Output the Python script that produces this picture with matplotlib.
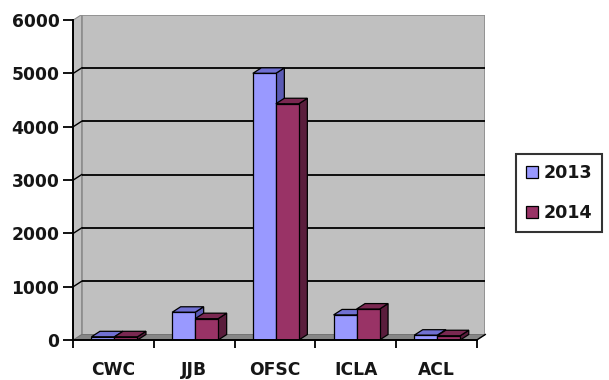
import matplotlib
matplotlib.use("Agg")
import matplotlib.pyplot as plt
from matplotlib.patches import Polygon

# ---- data ----
categories = ["CWC", "JJB", "OFSC", "ICLA", "ACL"]
series_names = ["2013", "2014"]
values_2013 = [60, 520, 5000, 470, 90]
values_2014 = [60, 400, 4430, 580, 80]
y_ticks = [0, 1000, 2000, 3000, 4000, 5000, 6000]

# ---- style ----
front_cols = ["#9999FF", "#993366"]
top_cols = ["#7070D2", "#7A2851"]
side_cols = ["#5A5AB4", "#5A1D3C"]
wall_col = "#C0C0C0"
floor_col = "#868686"
txt_col = "#161616"

W, H = 609, 380
fig = plt.figure(figsize=(W / 100, H / 100), dpi=100)
fig.patch.set_facecolor("white")

# pixel geometry
x0_px, y0_px = 73.3, 340.0
px_cat = 80.7
px_1000 = 53.33
DX_px, DY_px = 8.5, 5.5
ymax = 6000
dxu = DX_px / px_cat
dyu = DY_px / px_1000 * 1000

ax_w = 5 * px_cat + DX_px
ax_h = ymax / 1000 * px_1000 + DY_px
ax = fig.add_axes([x0_px / W, (H - y0_px) / H, ax_w / W, ax_h / H])
ax.set_xlim(-0.5, 4.5 + dxu)
ax.set_ylim(0, ymax + dyu)
ax.patch.set_visible(False)

xl, xr = -0.5, 4.5
# left wall
ax.add_patch(Polygon([(xl, 0), (xl, ymax), (xl + dxu, ymax + dyu), (xl + dxu, dyu)],
                     closed=True, facecolor=wall_col, edgecolor="#8C8C8C", lw=0.8, zorder=1))
# back wall
ax.add_patch(Polygon([(xl + dxu, dyu), (xl + dxu, ymax + dyu), (xr + dxu, ymax + dyu), (xr + dxu, dyu)],
                     closed=True, facecolor=wall_col, edgecolor="#8C8C8C", lw=1.2, zorder=1))
# floor
ax.add_patch(Polygon([(xl, 0), (xr, 0), (xr + dxu, dyu), (xl + dxu, dyu)],
                     closed=True, facecolor=floor_col, edgecolor="#707070", lw=0.6, zorder=1))
# gridlines
for v in y_ticks[1:-1]:
    ax.plot([xl + dxu, xr + dxu], [v + dyu, v + dyu], color="black", lw=1.3, zorder=2,
            solid_capstyle="butt")
    ax.plot([xl, xl + dxu], [v, v + dyu], color="black", lw=1.0, zorder=2)

# bars
bw = 0.285
series = [values_2013, values_2014]
offsets = [-bw + 0.01, 0.01]
for i in range(len(categories)):
    for s in range(2):
        v = series[s][i]
        x1 = i + offsets[s]
        x2 = x1 + bw
        z = 3 + i * 0.01 + s * 0.005
        ax.add_patch(Polygon([(x2, 0), (x2, v), (x2 + dxu, v + dyu), (x2 + dxu, dyu)],
                             closed=True, facecolor=side_cols[s], edgecolor="black", lw=0.9, zorder=z))
        ax.add_patch(Polygon([(x1, v), (x2, v), (x2 + dxu, v + dyu), (x1 + dxu, v + dyu)],
                             closed=True, facecolor=top_cols[s], edgecolor="black", lw=0.9, zorder=z))
handles = []
for s in range(2):
    xs = [i + offsets[s] for i in range(len(categories))]
    bc = ax.bar(xs, series[s], width=bw, align="edge", color=front_cols[s],
                edgecolor="black", lw=0.9, zorder=3.2, label=series_names[s])
    handles.append(bc)
for s in range(2):
    for i, p in enumerate(handles[s].patches):
        p.set_zorder(3 + i * 0.01 + s * 0.005 + 0.002)

# axes spines / ticks
for sp in ["top", "right"]:
    ax.spines[sp].set_visible(False)
ax.spines["left"].set_bounds(0, ymax)
ax.spines["bottom"].set_bounds(xl, xr)
for sp in ["left", "bottom"]:
    ax.spines[sp].set_linewidth(1.4)
    ax.spines[sp].set_color("black")
    ax.spines[sp].set_zorder(5)
ax.plot([xr, xr + dxu], [0, dyu], color="black", lw=1.0, zorder=5, clip_on=False)

ax.set_yticks(y_ticks)
ax.set_yticklabels([str(t) for t in y_ticks])
ax.tick_params(axis="y", direction="out", length=7, width=1.3, pad=3,
               labelsize=12.3, labelcolor=txt_col)
ax.set_xticks(range(len(categories)))
ax.set_xticklabels(categories)
ax.set_xticks([b - 0.5 for b in range(len(categories) + 1)], minor=True)
ax.tick_params(axis="x", which="major", length=0, pad=15, labelsize=12.3, labelcolor=txt_col)
ax.tick_params(axis="x", which="minor", direction="out", length=6, width=1.3)
for lab in ax.get_xticklabels() + ax.get_yticklabels():
    lab.set_fontweight("bold")
    lab.set_family("DejaVu Sans")

leg = fig.legend(handles=handles, labels=series_names, loc="center left",
                 bbox_to_anchor=(516 / W, 1 - 193 / H), frameon=True, fancybox=False,
                 prop={"weight": "bold", "size": 12.6}, handlelength=0.72, handleheight=0.72,
                 handletextpad=0.3, labelspacing=1.25, borderpad=0.55, borderaxespad=0)
leg.get_frame().set_edgecolor("black")
leg.get_frame().set_linewidth(1.5)
for t in leg.get_texts():
    t.set_color(txt_col)

fig.savefig("out.png", dpi=100, facecolor="white")
